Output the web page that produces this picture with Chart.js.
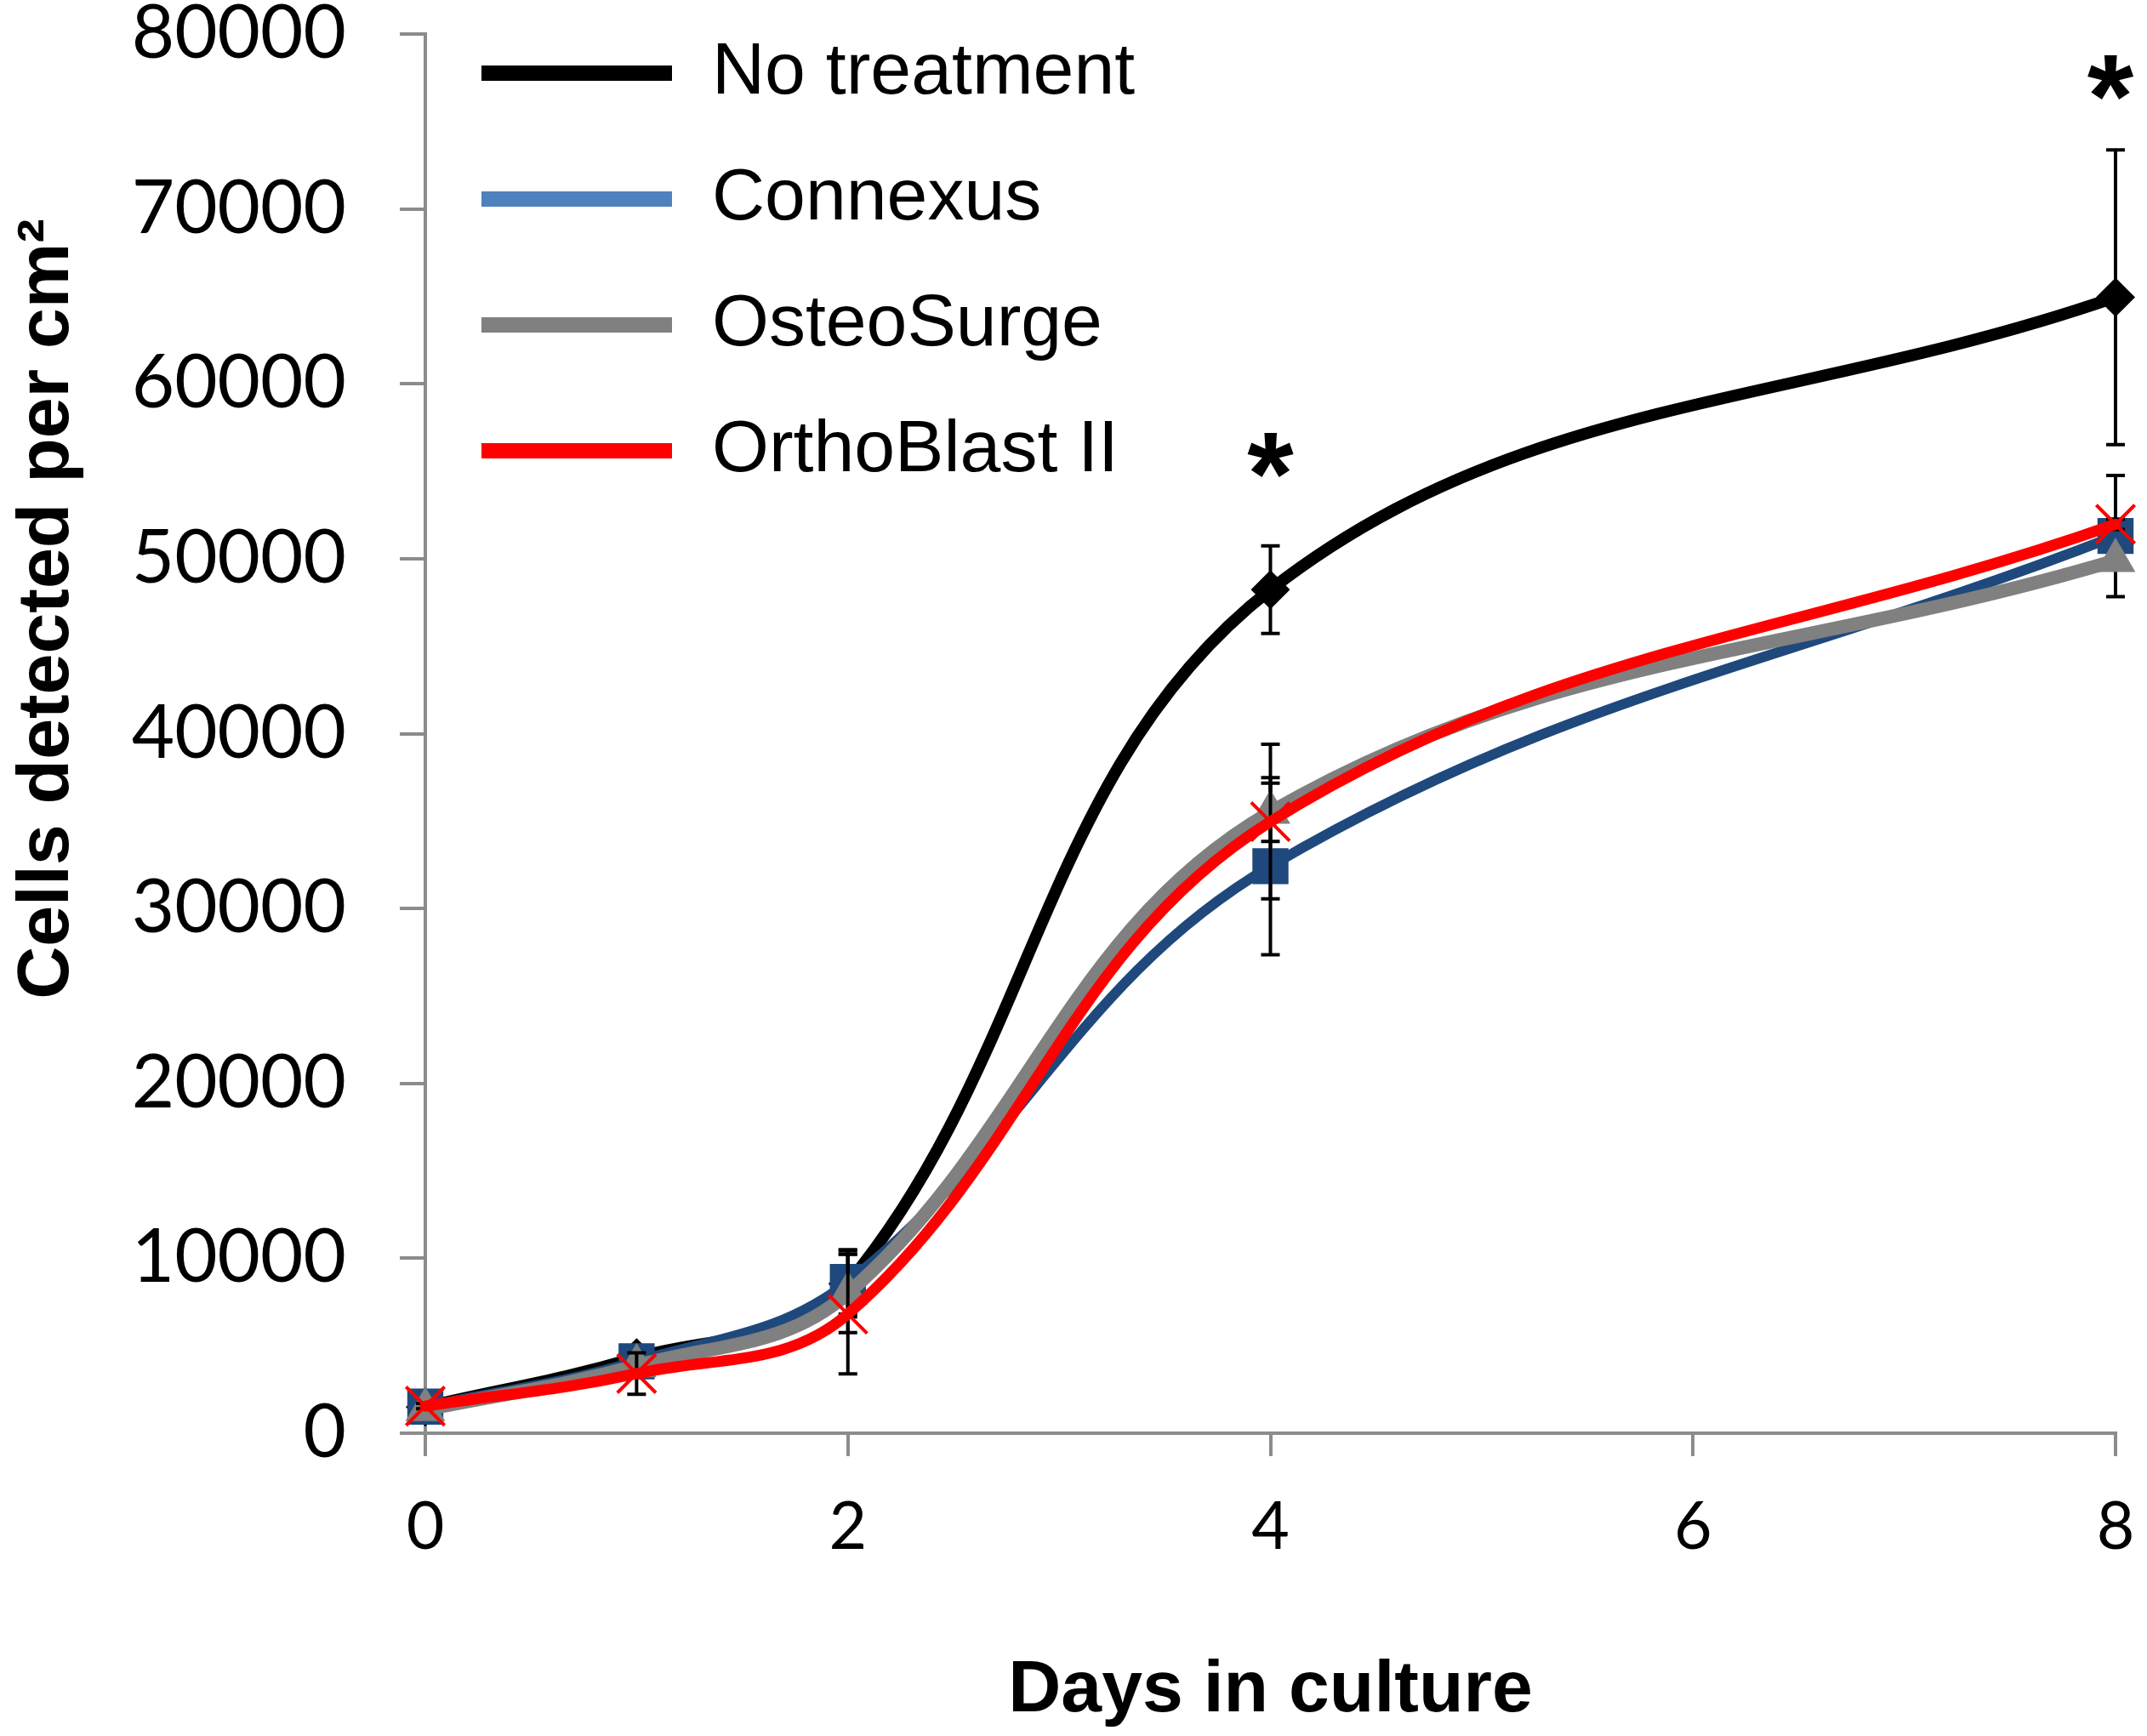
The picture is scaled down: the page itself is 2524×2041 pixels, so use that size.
<!DOCTYPE html>
<html>
<head>
<meta charset="utf-8">
<script src="https://cdn.jsdelivr.net/npm/chart.js@4.4.1/dist/chart.umd.min.js"></script>
<style>
html, body { margin: 0; padding: 0; background: #ffffff; }
#wrap { width: 2524px; height: 2041px; position: relative; }
</style>
</head>
<body>
<div id="wrap"><canvas id="c" width="2524" height="2041"></canvas></div>
<script>
// ---------- data ----------
const days = [0, 1, 2, 4, 8];
const seriesNames = ['No treatment', 'Connexus', 'OsteoSurge', 'OrthoBlast II'];

const noTreatment    = [1500, 4320, 8550, 48230, 64950];
const noTreatmentErr = [150, 300, 1900, 2500, 8425];

const connexus    = [1520, 4110, 8650, 32420, 51300];
const connexusErr = [150, 300, 1840, 5065, 3465];

const osteoSurge    = [1350, 3850, 8000, 35500, 49900];
const osteoSurgeErr = [150, 300, 2250, 1670, 300];

const orthoBlast    = [1550, 3410, 6810, 34970, 51970];
const orthoBlastErr = [150, 1180, 3420, 4420, 300];

const yTicks = [0, 10000, 20000, 30000, 40000, 50000, 60000, 70000, 80000];
const xTicks = [0, 2, 4, 6, 8];

const sigDays   = [4, 8];
const sigLevels = [56400, 78000];
const sigLabels = ['*', '*'];

// ---------- styles ----------
const lineColors   = ['#000000', '#1F497D', '#808080', '#FF0000'];
const legendColors = ['#000000', '#4F81BD', '#808080', '#FF0000'];
const lineWidths   = [14, 12, 16, 13];
const pointStyles  = ['rectRot', 'rect', 'triangle', 'crossRot'];
const pointRadii   = [23, 30, 27, 32];
const pointBorders = [0, 0, 0, 4];

const values = [noTreatment, connexus, osteoSurge, orthoBlast];
const errors = [noTreatmentErr, connexusErr, osteoSurgeErr, orthoBlastErr];

const AXIS_COLOR = '#8c8c8c';

const datasets = seriesNames.map((name, i) => ({
  label: name,
  data: days.map((d, k) => ({ x: d, y: values[i][k] })),
  errors: errors[i],
  borderColor: lineColors[i],
  backgroundColor: lineColors[i],
  borderWidth: lineWidths[i],
  borderCapStyle: 'round',
  borderJoinStyle: 'round',
  tension: 0.38,
  pointStyle: pointStyles[i],
  pointRadius: pointRadii[i],
  pointBorderWidth: pointBorders[i],
  pointBorderColor: lineColors[i],
  pointBackgroundColor: lineColors[i],
  order: 4 - i,
  clip: false
}));

// error bars drawn per series, just before that series is drawn
const errorBarPlugin = {
  id: 'errorBars',
  beforeDatasetDraw(chart, args) {
    const ds = chart.data.datasets[args.index];
    const xs = chart.scales.x, ys = chart.scales.y;
    const ctx = chart.ctx;
    ctx.save();
    ctx.strokeStyle = '#000000';
    ctx.lineWidth = 4;
    ctx.lineCap = 'butt';
    ds.data.forEach((p, k) => {
      const e = ds.errors[k];
      const x = xs.getPixelForValue(p.x);
      const yt = ys.getPixelForValue(p.y + e);
      const yb = ys.getPixelForValue(p.y - e);
      ctx.beginPath();
      ctx.moveTo(x, yt); ctx.lineTo(x, yb);
      ctx.moveTo(x - 11, yt); ctx.lineTo(x + 11, yt);
      ctx.moveTo(x - 11, yb); ctx.lineTo(x + 11, yb);
      ctx.stroke();
    });
    ctx.restore();
  }
};

const overlayPlugin = {
  id: 'overlay',
  afterDraw(chart) {
    const ctx = chart.ctx;
    const xs = chart.scales.x, ys = chart.scales.y;
    ctx.save();
    // legend
    ctx.textAlign = 'left';
    ctx.textBaseline = 'middle';
    ctx.font = '86px "Liberation Sans", Arial, sans-serif';
    chart.data.datasets.forEach((ds, i) => {
      const y = 86 + i * 148;
      ctx.strokeStyle = legendColors[i];
      ctx.lineWidth = 18;
      ctx.lineCap = 'butt';
      ctx.beginPath();
      ctx.moveTo(566, y); ctx.lineTo(790, y);
      ctx.stroke();
      ctx.fillStyle = '#000000';
      ctx.fillText(ds.label, 837, y);
    });
    // y axis title
    ctx.save();
    ctx.translate(56, 716);
    ctx.rotate(-Math.PI / 2);
    ctx.textAlign = 'center';
    ctx.textBaseline = 'middle';
    ctx.font = 'bold 86px "Liberation Sans", Arial, sans-serif';
    ctx.fillStyle = '#000000';
    ctx.fillText('Cells detected per cm\u00B2', 0, 0);
    ctx.restore();
    // significance markers
    const size = 140;
    ctx.font = 'bold ' + size + 'px "Liberation Sans", Arial, sans-serif';
    ctx.textAlign = 'center';
    ctx.textBaseline = 'alphabetic';
    ctx.fillStyle = '#000000';
    sigDays.forEach((d, k) => {
      const x = xs.getPixelForValue(d) - (k === 1 ? 6 : 0);
      const y = ys.getPixelForValue(sigLevels[k]);
      ctx.fillText(sigLabels[k], x, y + 0.57 * size);
    });
    ctx.restore();
  }
};

new Chart(document.getElementById('c'), {
  type: 'line',
  data: { datasets },
  options: {
    responsive: false,
    devicePixelRatio: 1,
    animation: false,
    events: [],
    layout: { padding: { top: 40, right: 37, bottom: 0, left: 0 } },
    plugins: { legend: { display: false }, tooltip: { enabled: false }, title: { display: false } },
    scales: {
      x: {
        type: 'linear',
        min: 0, max: 8,
        afterBuildTicks(scale) { scale.ticks = xTicks.map(v => ({ value: v })); },
        afterFit(scale) { scale.height = 356; scale.paddingLeft = 0; scale.paddingRight = 0; },
        grid: { display: true, drawOnChartArea: false, drawTicks: true, tickLength: 27, color: AXIS_COLOR, lineWidth: 4 },
        border: { display: true, color: AXIS_COLOR, width: 4 },
        ticks: {
          padding: 38,
          color: '#000000',
          font: { family: 'Lato, "Open Sans", sans-serif', size: 77 },
          maxRotation: 0,
          callback: v => String(v)
        },
        title: {
          display: true,
          text: 'Days in culture',
          color: '#000000',
          font: { family: '"Liberation Sans", Arial, sans-serif', size: 86, weight: 'bold' },
          padding: { top: 0, bottom: 1 }
        }
      },
      y: {
        type: 'linear',
        min: 0, max: 80000,
        afterBuildTicks(scale) { scale.ticks = yTicks.map(v => ({ value: v })); },
        afterFit(scale) { scale.width = 500; scale.paddingTop = 0; scale.paddingBottom = 0; },
        grid: { display: true, drawOnChartArea: false, drawTicks: true, tickLength: 30, color: AXIS_COLOR, lineWidth: 4 },
        border: { display: true, color: AXIS_COLOR, width: 4 },
        ticks: {
          padding: 63,
          color: '#000000',
          font: { family: 'Lato, "Open Sans", sans-serif', size: 87 },
          callback: v => String(v)
        },
        title: { display: false }
      }
    }
  },
  plugins: [errorBarPlugin, overlayPlugin]
});
</script>
</body>
</html>
